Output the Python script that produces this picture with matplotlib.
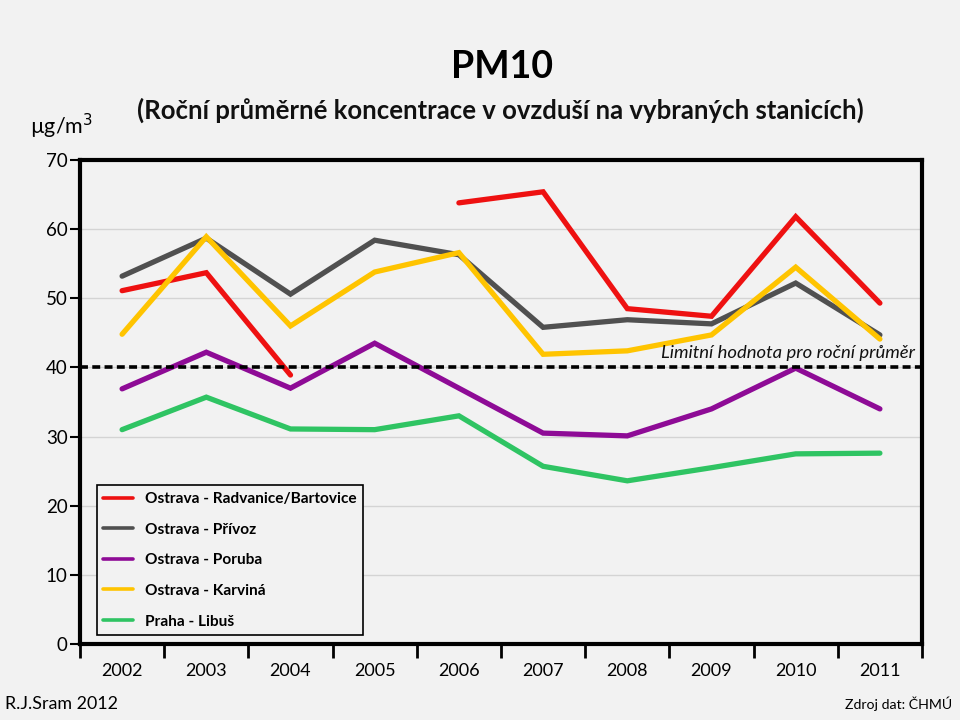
import matplotlib
matplotlib.use("Agg")
import matplotlib.pyplot as plt
import numpy as np

years = ["2002", "2003", "2004", "2005", "2006", "2007", "2008", "2009", "2010", "2011"]
radvanice = [51.1, 53.7, 38.9, np.nan, 63.8, 65.4, 48.5, 47.4, 61.8, 49.3]
privoz = [53.2, 58.7, 50.6, 58.4, 56.3, 45.8, 46.9, 46.3, 52.2, 44.7]
poruba = [36.9, 42.2, 37.0, 43.5, 37.0, 30.5, 30.1, 34.0, 39.9, 34.0]
karvina = [44.8, 58.9, 46.0, 53.8, 56.6, 41.9, 42.4, 44.7, 54.5, 44.1]
libus = [31.0, 35.7, 31.1, 31.0, 33.0, 25.7, 23.6, 25.5, 27.5, 27.6]
limit_value = 40
y_ticks = [0, 10, 20, 30, 40, 50, 60, 70]

series = [
    ("Ostrava - Radvanice/Bartovice", radvanice, "#ee1111"),
    ("Ostrava - Přívoz", privoz, "#505050"),
    ("Ostrava - Poruba", poruba, "#8e0b96"),
    ("Ostrava - Karviná", karvina, "#ffc400"),
    ("Praha - Libuš", libus, "#2fc463"),
]

plt.rcParams['font.family'] = ['Lato', 'DejaVu Sans']
bg = "#f2f2f2"
fig = plt.figure(figsize=(9.6, 7.2), dpi=100, facecolor=bg)
ax = fig.add_axes([80/960, 76/720, 842/960, 484/720])
ax.set_facecolor(bg)

x = np.arange(len(years))
handles = []
for name, vals, col in series:
    h, = ax.plot(x, vals, color=col, lw=3.8, solid_capstyle='round', solid_joinstyle='miter', label=name, zorder=3)
    handles.append(h)

ax.axhline(limit_value, color="black", lw=2.6, ls=(0, (2.2, 1.2)), zorder=4)
ax.text(len(years) - 0.5 - 0.08, limit_value + 0.9, "Limitní hodnota pro roční průměr",
        ha='right', va='bottom', fontsize=13.3, fontstyle='italic', color='#111111')

ax.set_xlim(-0.5, len(years) - 0.5)
ax.set_ylim(0, 70)
ax.set_yticks(y_ticks)
ax.set_yticklabels([str(v) for v in y_ticks], fontsize=13.5)
ax.set_xticks(x)
ax.set_xticklabels(years, fontsize=13)
ax.set_xticks(np.arange(-0.5, len(years)), minor=True)
ax.tick_params(axis='x', which='major', length=0, pad=14)
ax.tick_params(axis='x', which='minor', length=10, width=2, direction='out')
ax.tick_params(axis='y', which='major', length=7, width=1.5, direction='out', pad=2)
for sp in ax.spines.values():
    sp.set_linewidth(3)
    sp.set_color('black')
ax.grid(axis='y', color='#d4d4d4', lw=1)
ax.set_axisbelow(True)

leg = ax.legend(handles=handles, loc='lower left', bbox_to_anchor=(17/842, 9/484),
                borderaxespad=0, fontsize=11.1, frameon=True, fancybox=False, edgecolor='black',
                handlelength=1.9, labelspacing=1.08, borderpad=0.42, handletextpad=0.8)
leg.get_frame().set_linewidth(1.2)
leg.get_frame().set_facecolor(bg)
leg.get_frame().set_alpha(1)
for t in leg.get_texts():
    t.set_fontweight('bold')
for ln in leg.get_lines():
    ln.set_linewidth(2.6)

fig.text(502/960, 1 - 67/720, "PM10", ha='center', va='center', fontsize=27, fontweight='bold')
fig.text(500/960, 1 - 110/720, "(Roční průměrné koncentrace v ovzduší na vybraných stanicích)",
         ha='center', va='center', fontsize=18.5, fontweight='bold', color='#111111')
fig.text(30/960, 1 - 126/720, "µg/m$^3$", ha='left', va='center', fontsize=15.5)
fig.text(5/960, 1 - 704/720, "R.J.Sram 2012", ha='left', va='center', fontsize=12.9)
fig.text(952/960, 1 - 704/720, "Zdroj dat: ČHMÚ", ha='right', va='center', fontsize=10.2)

fig.savefig("out.png", dpi=100, facecolor=bg)
